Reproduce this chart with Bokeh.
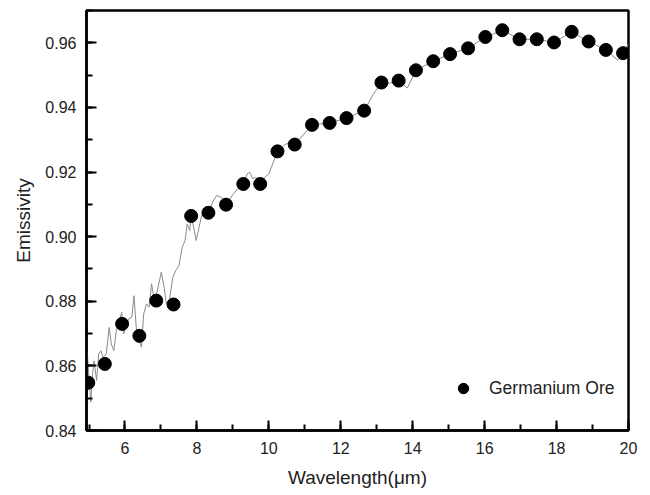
from bokeh.plotting import figure
from bokeh.models import Range1d, SingleIntervalTicker, Legend, LegendItem, NumeralTickFormatter
from bokeh.embed import file_html
from bokeh.resources import INLINE

# Marker data (Germanium Ore)
wavelength = [4.98, 5.44, 5.92, 6.40, 6.87, 7.35, 7.84, 8.32, 8.81, 9.29, 9.76,
              10.24, 10.72, 11.20, 11.69, 12.16, 12.65, 13.13, 13.61, 14.09,
              14.57, 15.04, 15.54, 16.02, 16.49, 16.97, 17.45, 17.93, 18.42,
              18.89, 19.37, 19.85]
emissivity = [0.8548, 0.8606, 0.8730, 0.8693, 0.8802, 0.8790, 0.9064, 0.9074,
              0.9099, 0.9163, 0.9163, 0.9264, 0.9285, 0.9346, 0.9352, 0.9367,
              0.9390, 0.9477, 0.9483, 0.9515, 0.9543, 0.9565, 0.9583, 0.9618,
              0.9639, 0.9611, 0.9611, 0.9601, 0.9634, 0.9604, 0.9578, 0.9568]

# Continuous spectrum (thin grey line)
spec_x = [4.95, 5.01, 5.05, 5.10, 5.14, 5.21, 5.27, 5.33, 5.39, 5.48, 5.56, 5.62,
          5.69, 5.76, 5.83, 5.91, 5.96, 6.04, 6.11, 6.19, 6.25, 6.32, 6.39, 6.46,
          6.52, 6.60, 6.67, 6.74, 6.80, 6.88, 6.95, 7.01, 7.08, 7.15, 7.24, 7.33,
          7.41, 7.50, 7.59, 7.67, 7.73, 7.80, 7.84, 7.92, 7.98, 8.06, 8.13, 8.22,
          8.32, 8.45, 8.55, 8.68, 8.81, 9.00, 9.15, 9.29, 9.40, 9.47, 9.55, 9.65,
          9.76, 9.90, 10.00, 10.24, 10.45, 10.55, 10.72, 11.20, 11.69, 12.16,
          12.65, 12.90, 13.13, 13.35, 13.61, 13.85, 14.09, 14.57, 15.04, 15.54,
          16.02, 16.49, 16.97, 17.45, 17.93, 18.42, 18.89, 19.37, 19.70, 19.85,
          20.00]
spec_y = [0.8647, 0.8544, 0.8488, 0.8575, 0.8616, 0.8555, 0.8637, 0.8647, 0.8626,
          0.8637, 0.8719, 0.8668, 0.8647, 0.8709, 0.8735, 0.8766, 0.8699, 0.8725,
          0.8746, 0.8751, 0.8817, 0.8709, 0.8678, 0.8658, 0.8761, 0.8792, 0.8782,
          0.8854, 0.8813, 0.8823, 0.8859, 0.8890, 0.8849, 0.8792, 0.8808, 0.8874,
          0.8895, 0.8910, 0.8967, 0.8988, 0.9039, 0.9019, 0.9065, 0.9024, 0.8988,
          0.9029, 0.9065, 0.9070, 0.9074, 0.9110, 0.9127, 0.9122, 0.9099, 0.9130,
          0.9150, 0.9163, 0.9195, 0.9199, 0.9180, 0.9183, 0.9163, 0.9185, 0.9194,
          0.9264, 0.9285, 0.9290, 0.9285, 0.9346, 0.9352, 0.9367, 0.9390, 0.9440,
          0.9477, 0.9475, 0.9483, 0.9460, 0.9515, 0.9543, 0.9565, 0.9583, 0.9618,
          0.9639, 0.9611, 0.9611, 0.9601, 0.9634, 0.9604, 0.9578, 0.9546, 0.9568,
          0.9596]

series_label = "Germanium Ore"
x_title = "Wavelength(\u03bcm)"
y_title = "Emissivity"

FONT = "Liberation Sans"

p = figure(width=650, height=495, output_backend="svg", toolbar_location=None,
           x_range=Range1d(4.93, 20.0), y_range=Range1d(0.84, 0.97),
           min_border_left=86, min_border_right=22, min_border_top=10,
           min_border_bottom=65, background_fill_color="white",
           border_fill_color="white")

p.grid.visible = False
p.outline_line_color = "black"
p.outline_line_width = 2.5

p.line(spec_x, spec_y, line_color="#8a8a8a", line_width=1)
r = p.scatter(wavelength, emissivity, marker="circle", size=13,
              fill_color="black", line_color="black")

for ax in (p.xaxis[0], p.yaxis[0]):
    ax.axis_line_width = 2.5
    ax.axis_line_color = "black"
    ax.major_tick_in = 10
    ax.major_tick_out = 0
    ax.minor_tick_in = 6
    ax.minor_tick_out = 0
    ax.major_tick_line_width = 2
    ax.minor_tick_line_width = 2
    ax.major_tick_line_color = "black"
    ax.minor_tick_line_color = "black"
    ax.major_label_text_font = FONT
    ax.major_label_text_font_size = "16px"
    ax.major_label_text_color = "#222222"
    ax.axis_label_text_font = FONT
    ax.axis_label_text_font_size = "19px"
    ax.axis_label_text_font_style = "normal"
    ax.axis_label_text_color = "#222222"

p.xaxis[0].ticker = SingleIntervalTicker(interval=2, num_minor_ticks=2)
p.yaxis[0].ticker = SingleIntervalTicker(interval=0.02, num_minor_ticks=2)
p.yaxis[0].formatter = NumeralTickFormatter(format="0.00")
p.xaxis[0].axis_label = x_title
p.yaxis[0].axis_label = y_title
p.xaxis[0].major_label_standoff = 11
p.yaxis[0].major_label_standoff = 10
p.xaxis[0].axis_label_standoff = 10
p.yaxis[0].axis_label_standoff = 8

legend = Legend(items=[LegendItem(label=series_label, renderers=[r])],
                location=(364, 29), margin=0, padding=2,
                glyph_width=26, glyph_height=26, label_standoff=13,
                border_line_color=None, background_fill_color="white",
                background_fill_alpha=1.0,
                label_text_font=FONT, label_text_font_size="17.5px",
                label_text_color="#222222")
p.add_layout(legend)

open("out.html", "w").write(file_html(p, INLINE))
